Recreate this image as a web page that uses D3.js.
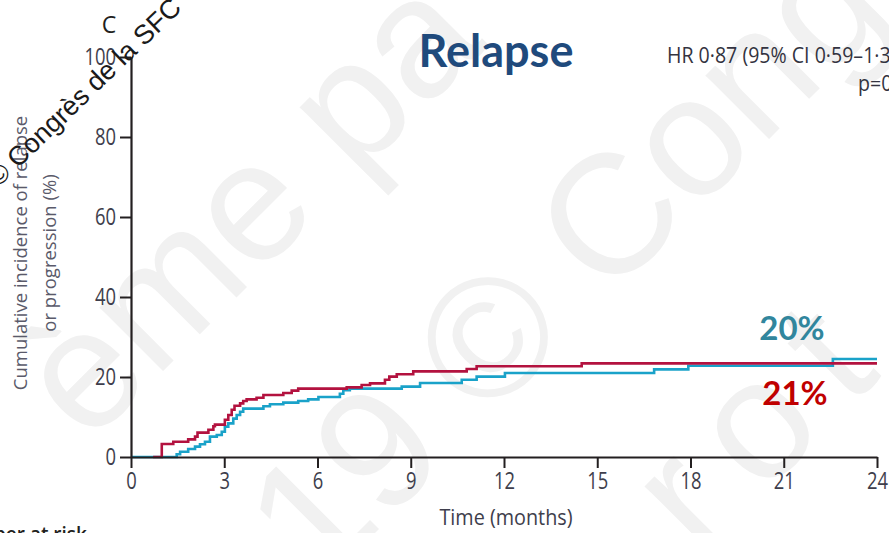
<!DOCTYPE html>
<html>
<head>
<meta charset="utf-8">
<script src="https://cdn.jsdelivr.net/npm/d3@7/dist/d3.min.js"></script>
<style>
  html, body { margin: 0; padding: 0; background: #fff; }
  svg { display: block; }
  .narrow { font-family: 'Open Sans', 'DejaVu Sans', sans-serif; }
</style>
</head>
<body>
<svg id="chart" width="889" height="533"></svg>
<script>
// Cumulative incidence of relapse or progression, two arms (step functions)
const redTimes  = [0.71, 0.99, 1.36, 1.84, 2.06, 2.14, 2.49, 2.65, 2.70, 3.02, 3.13, 3.24, 3.33, 3.51, 3.61, 3.72, 4.04, 4.26, 4.90, 5.17, 5.38, 6.94, 7.42, 7.69, 8.17, 8.31, 8.55, 9.08, 10.80, 11.12, 14.50, 24.00];
const redValues = [0, 3.25, 3.8, 4.4, 5.1, 6.1, 6.8, 7.7, 8.1, 9.3, 10.5, 11.8, 12.8, 13.4, 14.0, 14.4, 14.8, 15.5, 16.0, 16.6, 17.1, 17.4, 18.0, 18.4, 19.3, 20.1, 20.7, 21.4, 22.0, 22.7, 23.4, 23.4];

const cyanTimes  = [0, 1.47, 1.58, 1.84, 2.06, 2.22, 2.38, 2.54, 2.76, 2.92, 3.02, 3.13, 3.29, 3.40, 3.51, 3.61, 4.26, 4.47, 4.90, 5.38, 5.70, 6.03, 6.72, 6.83, 7.04, 8.71, 9.30, 10.64, 11.12, 12.03, 16.83, 17.93, 22.58, 24.00];
const cyanValues = [0, 0.7, 1.3, 2.0, 2.6, 3.2, 3.8, 5.1, 5.5, 6.3, 7.6, 8.4, 9.6, 10.5, 11.3, 12.1, 12.7, 13.2, 13.6, 14.0, 14.4, 15.0, 15.8, 16.7, 17.1, 17.6, 18.5, 19.3, 20.1, 21.0, 21.9, 22.8, 24.5, 24.5];

const xTicks = [0, 3, 6, 9, 12, 15, 18, 21, 24];
const yTicks = [0, 20, 40, 60, 80, 100];

const title = "Relapse";
const hrText = "HR 0·87 (95% CI 0·59–1·30)";
const pText = "p=0·50";
const cyanLabel = "20%";
const redLabel = "21%";

const svg = d3.select("#chart");
const W = 889, H = 533;
const m = { left: 131, right: 12, top: 57, bottom: 76 };
const squeeze = 0.8;   // horizontal squeeze for the condensed tick lettering

const x = d3.scaleLinear().domain([0, 24]).range([m.left, W - m.right]);
const y = d3.scaleLinear().domain([0, 100]).range([H - m.bottom, m.top]);

// faint background lettering
const wm = svg.append("g")
  .attr("fill", "#f1f1f1")
  .style("font-family", "'Liberation Sans', Arial, sans-serif")
  .style("font-size", "170px");
[
  { t: "ème pa", x: 88, y: 446, ls: 0 },
  { t: "19 © Cong", x: 318, y: 590, ls: 0 },
  { t: "rot", x: 700, y: 558, ls: 30 }
].forEach(d => {
  wm.append("text")
    .attr("transform", `translate(${d.x},${d.y}) rotate(-45)`)
    .style("letter-spacing", d.ls + "px")
    .text(d.t);
});

// series
const line = d3.line()
  .x(d => x(d[0]))
  .y(d => y(d[1]))
  .curve(d3.curveStepAfter);

const cyanData = d3.zip(cyanTimes, cyanValues);
const redData = d3.zip(redTimes, redValues);

svg.append("path")
  .datum(cyanData)
  .attr("fill", "none")
  .attr("stroke", "#1aa2c9")
  .attr("stroke-width", 2.6)
  .attr("d", line);

svg.append("path")
  .datum(redData)
  .attr("fill", "none")
  .attr("stroke", "#b3123f")
  .attr("stroke-width", 2.6)
  .attr("d", line);

// axes
const axisColor = "#231f20";
const labColor = "#3e3e4c";

const gx = svg.append("g")
  .attr("transform", `translate(0,${y(0)})`)
  .call(d3.axisBottom(x).tickValues(xTicks).tickSize(11).tickSizeOuter(0).tickPadding(5).tickFormat(d3.format("d")));
const gy = svg.append("g")
  .attr("transform", `translate(${x(0)},0)`)
  .call(d3.axisLeft(y).tickValues(yTicks).tickSize(11).tickSizeOuter(0).tickPadding(4).tickFormat(d3.format("d")));

[gx, gy].forEach(g => {
  g.select(".domain").attr("stroke", axisColor).attr("stroke-width", 2.2);
  g.selectAll(".tick line").attr("stroke", axisColor).attr("stroke-width", 2);
  g.selectAll(".tick text")
    .attr("class", "narrow")
    .attr("fill", labColor)
    .style("font-size", "23px");
});
gx.selectAll(".tick text").attr("transform", `scale(${squeeze},1)`);
gy.selectAll(".tick text")
  .attr("x", -15 / squeeze)
  .attr("transform", `scale(${squeeze},1)`);

// axis titles
svg.append("text")
  .attr("class", "narrow")
  .attr("transform", `translate(${x(12) + 2},525) scale(0.9,1)`)
  .attr("text-anchor", "middle")
  .attr("fill", labColor)
  .style("font-size", "22px")
  .text("Time (months)");

const yl = svg.append("text")
  .attr("transform", `translate(27,253) rotate(-90)`)
  .attr("text-anchor", "middle")
  .attr("fill", "#5a5a6a")
  .style("font-family", "'Open Sans', 'DejaVu Sans', sans-serif")
  .style("font-size", "18.5px");
yl.append("tspan").attr("x", 0).attr("y", 0).text("Cumulative incidence of relapse");
yl.append("tspan").attr("x", 0).attr("y", 29).text("or progression (%)");

// panel letter and title
svg.append("text")
  .attr("x", 109).attr("y", 33)
  .attr("text-anchor", "middle")
  .attr("fill", "#231f20")
  .style("font-family", "'Open Sans', sans-serif")
  .style("font-size", "23px")
  .text("C");

svg.append("text")
  .attr("x", 496).attr("y", 67)
  .attr("text-anchor", "middle")
  .attr("fill", "#1f4a7c")
  .style("font-family", "Lato, 'Open Sans', sans-serif")
  .style("font-weight", "700")
  .style("font-size", "45px")
  .text(title);

// hazard ratio annotation
svg.append("text")
  .attr("class", "narrow")
  .attr("transform", "translate(667,63) scale(0.89,1)")
  .attr("fill", "#333340")
  .style("font-size", "22px")
  .text(hrText);
svg.append("text")
  .attr("class", "narrow")
  .attr("transform", "translate(858,91) scale(0.89,1)")
  .attr("fill", "#333340")
  .style("font-size", "22px")
  .text(pText);

// two-year estimates
svg.append("text")
  .attr("x", 792).attr("y", 340)
  .attr("text-anchor", "middle")
  .attr("fill", "#31869d")
  .style("font-family", "Lato, 'Open Sans', sans-serif")
  .style("font-weight", "700")
  .style("font-size", "33px")
  .text(cyanLabel);
svg.append("text")
  .attr("x", 795).attr("y", 405)
  .attr("text-anchor", "middle")
  .attr("fill", "#c00000")
  .style("font-family", "Lato, 'Open Sans', sans-serif")
  .style("font-weight", "700")
  .style("font-size", "33px")
  .text(redLabel);

// risk table heading (cut by the lower edge)
svg.append("text")
  .attr("x", 87).attr("y", 541)
  .attr("text-anchor", "end")
  .attr("fill", "#231f20")
  .style("font-family", "'Open Sans', sans-serif")
  .style("font-weight", "600")
  .style("font-size", "19px")
  .text("Number at risk");

// copyright stamp
svg.append("text")
  .attr("transform", "translate(-2,188) rotate(-44)")
  .attr("fill", "#1a1a1a")
  .style("font-family", "'Liberation Sans', Arial, sans-serif")
  .style("font-size", "27px")
  .text("© Congrès de la SFC");
</script>
</body>
</html>
